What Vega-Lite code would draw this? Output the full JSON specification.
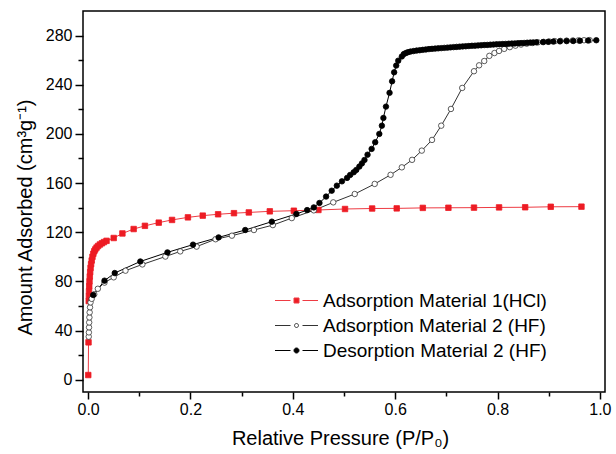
{
  "$schema": "https://vega.github.io/schema/vega-lite/v6.json",
  "width": 522,
  "height": 381,
  "autosize": {"type": "none"},
  "padding": {"left": 83, "top": 11, "right": 11, "bottom": 62},
  "background": "white",
  "config": {"view": {"stroke": "black", "strokeWidth": 1.5}, "font": "Liberation Sans"},
  "data": {"values": [
    {"s": "Adsorption Material 1(HCl)", "p": 0.0003, "v": 3.8},
    {"s": "Adsorption Material 1(HCl)", "p": 0.0008, "v": 30.4},
    {"s": "Adsorption Material 1(HCl)", "p": 0.0012, "v": 64},
    {"s": "Adsorption Material 1(HCl)", "p": 0.0015, "v": 68},
    {"s": "Adsorption Material 1(HCl)", "p": 0.0018, "v": 72},
    {"s": "Adsorption Material 1(HCl)", "p": 0.0022, "v": 76},
    {"s": "Adsorption Material 1(HCl)", "p": 0.0027, "v": 80},
    {"s": "Adsorption Material 1(HCl)", "p": 0.0033, "v": 84},
    {"s": "Adsorption Material 1(HCl)", "p": 0.004, "v": 87.5},
    {"s": "Adsorption Material 1(HCl)", "p": 0.0048, "v": 91},
    {"s": "Adsorption Material 1(HCl)", "p": 0.0058, "v": 94},
    {"s": "Adsorption Material 1(HCl)", "p": 0.007, "v": 97},
    {"s": "Adsorption Material 1(HCl)", "p": 0.0085, "v": 100},
    {"s": "Adsorption Material 1(HCl)", "p": 0.0102, "v": 102.5},
    {"s": "Adsorption Material 1(HCl)", "p": 0.012, "v": 104.5},
    {"s": "Adsorption Material 1(HCl)", "p": 0.014, "v": 106},
    {"s": "Adsorption Material 1(HCl)", "p": 0.0165, "v": 107.5},
    {"s": "Adsorption Material 1(HCl)", "p": 0.0195, "v": 108.8},
    {"s": "Adsorption Material 1(HCl)", "p": 0.023, "v": 110},
    {"s": "Adsorption Material 1(HCl)", "p": 0.027, "v": 111},
    {"s": "Adsorption Material 1(HCl)", "p": 0.031, "v": 112},
    {"s": "Adsorption Material 1(HCl)", "p": 0.036, "v": 113},
    {"s": "Adsorption Material 1(HCl)", "p": 0.05, "v": 115.3},
    {"s": "Adsorption Material 1(HCl)", "p": 0.067, "v": 119},
    {"s": "Adsorption Material 1(HCl)", "p": 0.089, "v": 122.6},
    {"s": "Adsorption Material 1(HCl)", "p": 0.111, "v": 125.2},
    {"s": "Adsorption Material 1(HCl)", "p": 0.138, "v": 127.8},
    {"s": "Adsorption Material 1(HCl)", "p": 0.164, "v": 130},
    {"s": "Adsorption Material 1(HCl)", "p": 0.195, "v": 132.1},
    {"s": "Adsorption Material 1(HCl)", "p": 0.224, "v": 133.5},
    {"s": "Adsorption Material 1(HCl)", "p": 0.254, "v": 134.6},
    {"s": "Adsorption Material 1(HCl)", "p": 0.285, "v": 135.5},
    {"s": "Adsorption Material 1(HCl)", "p": 0.314, "v": 136.1},
    {"s": "Adsorption Material 1(HCl)", "p": 0.355, "v": 137},
    {"s": "Adsorption Material 1(HCl)", "p": 0.402, "v": 137.5},
    {"s": "Adsorption Material 1(HCl)", "p": 0.45, "v": 138.1},
    {"s": "Adsorption Material 1(HCl)", "p": 0.502, "v": 138.9},
    {"s": "Adsorption Material 1(HCl)", "p": 0.555, "v": 139.3},
    {"s": "Adsorption Material 1(HCl)", "p": 0.603, "v": 139.4},
    {"s": "Adsorption Material 1(HCl)", "p": 0.654, "v": 139.8},
    {"s": "Adsorption Material 1(HCl)", "p": 0.704, "v": 139.9},
    {"s": "Adsorption Material 1(HCl)", "p": 0.754, "v": 140},
    {"s": "Adsorption Material 1(HCl)", "p": 0.803, "v": 140.2},
    {"s": "Adsorption Material 1(HCl)", "p": 0.854, "v": 140.3},
    {"s": "Adsorption Material 1(HCl)", "p": 0.904, "v": 140.7},
    {"s": "Adsorption Material 1(HCl)", "p": 0.964, "v": 140.8},

    {"s": "Adsorption Material 2 (HF)", "p": 0.0012, "v": 35},
    {"s": "Adsorption Material 2 (HF)", "p": 0.0015, "v": 38.5},
    {"s": "Adsorption Material 2 (HF)", "p": 0.0018, "v": 42.6},
    {"s": "Adsorption Material 2 (HF)", "p": 0.0021, "v": 46.6},
    {"s": "Adsorption Material 2 (HF)", "p": 0.0025, "v": 50.7},
    {"s": "Adsorption Material 2 (HF)", "p": 0.003, "v": 54.8},
    {"s": "Adsorption Material 2 (HF)", "p": 0.0037, "v": 58.9},
    {"s": "Adsorption Material 2 (HF)", "p": 0.0047, "v": 62.9},
    {"s": "Adsorption Material 2 (HF)", "p": 0.007, "v": 65.8},
    {"s": "Adsorption Material 2 (HF)", "p": 0.012, "v": 69.5},
    {"s": "Adsorption Material 2 (HF)", "p": 0.019, "v": 74},
    {"s": "Adsorption Material 2 (HF)", "p": 0.032, "v": 79},
    {"s": "Adsorption Material 2 (HF)", "p": 0.05, "v": 83.3},
    {"s": "Adsorption Material 2 (HF)", "p": 0.073, "v": 88.7},
    {"s": "Adsorption Material 2 (HF)", "p": 0.106, "v": 93.8},
    {"s": "Adsorption Material 2 (HF)", "p": 0.151, "v": 100.2},
    {"s": "Adsorption Material 2 (HF)", "p": 0.18, "v": 104.4},
    {"s": "Adsorption Material 2 (HF)", "p": 0.212, "v": 108.3},
    {"s": "Adsorption Material 2 (HF)", "p": 0.249, "v": 114.3},
    {"s": "Adsorption Material 2 (HF)", "p": 0.281, "v": 117.2},
    {"s": "Adsorption Material 2 (HF)", "p": 0.324, "v": 121.8},
    {"s": "Adsorption Material 2 (HF)", "p": 0.361, "v": 125.8},
    {"s": "Adsorption Material 2 (HF)", "p": 0.398, "v": 131.5},
    {"s": "Adsorption Material 2 (HF)", "p": 0.441, "v": 137.8},
    {"s": "Adsorption Material 2 (HF)", "p": 0.479, "v": 144.3},
    {"s": "Adsorption Material 2 (HF)", "p": 0.521, "v": 151.1},
    {"s": "Adsorption Material 2 (HF)", "p": 0.56, "v": 159.3},
    {"s": "Adsorption Material 2 (HF)", "p": 0.591, "v": 166.7},
    {"s": "Adsorption Material 2 (HF)", "p": 0.613, "v": 172.8},
    {"s": "Adsorption Material 2 (HF)", "p": 0.633, "v": 178.9},
    {"s": "Adsorption Material 2 (HF)", "p": 0.652, "v": 186.4},
    {"s": "Adsorption Material 2 (HF)", "p": 0.672, "v": 195.1},
    {"s": "Adsorption Material 2 (HF)", "p": 0.69, "v": 206.7},
    {"s": "Adsorption Material 2 (HF)", "p": 0.709, "v": 220.3},
    {"s": "Adsorption Material 2 (HF)", "p": 0.731, "v": 237.4},
    {"s": "Adsorption Material 2 (HF)", "p": 0.754, "v": 251},
    {"s": "Adsorption Material 2 (HF)", "p": 0.764, "v": 255.8},
    {"s": "Adsorption Material 2 (HF)", "p": 0.774, "v": 259.3},
    {"s": "Adsorption Material 2 (HF)", "p": 0.784, "v": 263.5},
    {"s": "Adsorption Material 2 (HF)", "p": 0.794, "v": 265.8},
    {"s": "Adsorption Material 2 (HF)", "p": 0.803, "v": 267.5},
    {"s": "Adsorption Material 2 (HF)", "p": 0.813, "v": 269.2},
    {"s": "Adsorption Material 2 (HF)", "p": 0.824, "v": 270.6},
    {"s": "Adsorption Material 2 (HF)", "p": 0.835, "v": 271.8},
    {"s": "Adsorption Material 2 (HF)", "p": 0.846, "v": 272.7},
    {"s": "Adsorption Material 2 (HF)", "p": 0.857, "v": 273.4},
    {"s": "Adsorption Material 2 (HF)", "p": 0.868, "v": 274},
    {"s": "Adsorption Material 2 (HF)", "p": 0.879, "v": 274.5},
    {"s": "Adsorption Material 2 (HF)", "p": 0.89, "v": 274.9},
    {"s": "Adsorption Material 2 (HF)", "p": 0.901, "v": 275.2},
    {"s": "Adsorption Material 2 (HF)", "p": 0.912, "v": 275.5},
    {"s": "Adsorption Material 2 (HF)", "p": 0.923, "v": 275.7},
    {"s": "Adsorption Material 2 (HF)", "p": 0.935, "v": 275.9},
    {"s": "Adsorption Material 2 (HF)", "p": 0.947, "v": 276},
    {"s": "Adsorption Material 2 (HF)", "p": 0.958, "v": 276.1},
    {"s": "Adsorption Material 2 (HF)", "p": 0.969, "v": 276.2},
    {"s": "Adsorption Material 2 (HF)", "p": 0.98, "v": 276.3},

    {"s": "Desorption Material 2 (HF)", "p": 0.993, "v": 276.2},
    {"s": "Desorption Material 2 (HF)", "p": 0.977, "v": 276},
    {"s": "Desorption Material 2 (HF)", "p": 0.961, "v": 275.8},
    {"s": "Desorption Material 2 (HF)", "p": 0.948, "v": 275.6},
    {"s": "Desorption Material 2 (HF)", "p": 0.935, "v": 275.5},
    {"s": "Desorption Material 2 (HF)", "p": 0.922, "v": 275.3},
    {"s": "Desorption Material 2 (HF)", "p": 0.909, "v": 275.1},
    {"s": "Desorption Material 2 (HF)", "p": 0.899, "v": 274.9},
    {"s": "Desorption Material 2 (HF)", "p": 0.889, "v": 274.7},
    {"s": "Desorption Material 2 (HF)", "p": 0.876, "v": 274.5},
    {"s": "Desorption Material 2 (HF)", "p": 0.870, "v": 274.4},
    {"s": "Desorption Material 2 (HF)", "p": 0.864, "v": 274.3},
    {"s": "Desorption Material 2 (HF)", "p": 0.858, "v": 274.2},
    {"s": "Desorption Material 2 (HF)", "p": 0.852, "v": 274.0},
    {"s": "Desorption Material 2 (HF)", "p": 0.846, "v": 273.9},
    {"s": "Desorption Material 2 (HF)", "p": 0.840, "v": 273.8},
    {"s": "Desorption Material 2 (HF)", "p": 0.834, "v": 273.6},
    {"s": "Desorption Material 2 (HF)", "p": 0.828, "v": 273.5},
    {"s": "Desorption Material 2 (HF)", "p": 0.822, "v": 273.4},
    {"s": "Desorption Material 2 (HF)", "p": 0.816, "v": 273.2},
    {"s": "Desorption Material 2 (HF)", "p": 0.810, "v": 273.1},
    {"s": "Desorption Material 2 (HF)", "p": 0.804, "v": 273.0},
    {"s": "Desorption Material 2 (HF)", "p": 0.798, "v": 272.9},
    {"s": "Desorption Material 2 (HF)", "p": 0.792, "v": 272.7},
    {"s": "Desorption Material 2 (HF)", "p": 0.786, "v": 272.6},
    {"s": "Desorption Material 2 (HF)", "p": 0.780, "v": 272.4},
    {"s": "Desorption Material 2 (HF)", "p": 0.774, "v": 272.3},
    {"s": "Desorption Material 2 (HF)", "p": 0.768, "v": 272.1},
    {"s": "Desorption Material 2 (HF)", "p": 0.762, "v": 272.0},
    {"s": "Desorption Material 2 (HF)", "p": 0.756, "v": 271.8},
    {"s": "Desorption Material 2 (HF)", "p": 0.750, "v": 271.7},
    {"s": "Desorption Material 2 (HF)", "p": 0.744, "v": 271.5},
    {"s": "Desorption Material 2 (HF)", "p": 0.738, "v": 271.3},
    {"s": "Desorption Material 2 (HF)", "p": 0.732, "v": 271.2},
    {"s": "Desorption Material 2 (HF)", "p": 0.726, "v": 271.0},
    {"s": "Desorption Material 2 (HF)", "p": 0.720, "v": 270.8},
    {"s": "Desorption Material 2 (HF)", "p": 0.714, "v": 270.6},
    {"s": "Desorption Material 2 (HF)", "p": 0.708, "v": 270.4},
    {"s": "Desorption Material 2 (HF)", "p": 0.702, "v": 270.2},
    {"s": "Desorption Material 2 (HF)", "p": 0.696, "v": 270.0},
    {"s": "Desorption Material 2 (HF)", "p": 0.690, "v": 269.8},
    {"s": "Desorption Material 2 (HF)", "p": 0.684, "v": 269.6},
    {"s": "Desorption Material 2 (HF)", "p": 0.678, "v": 269.4},
    {"s": "Desorption Material 2 (HF)", "p": 0.672, "v": 269.2},
    {"s": "Desorption Material 2 (HF)", "p": 0.666, "v": 269.0},
    {"s": "Desorption Material 2 (HF)", "p": 0.660, "v": 268.7},
    {"s": "Desorption Material 2 (HF)", "p": 0.654, "v": 268.4},
    {"s": "Desorption Material 2 (HF)", "p": 0.648, "v": 268.1},
    {"s": "Desorption Material 2 (HF)", "p": 0.642, "v": 267.8},
    {"s": "Desorption Material 2 (HF)", "p": 0.636, "v": 267.4},
    {"s": "Desorption Material 2 (HF)", "p": 0.630, "v": 267.0},
    {"s": "Desorption Material 2 (HF)", "p": 0.625, "v": 266.5},
    {"s": "Desorption Material 2 (HF)", "p": 0.621, "v": 265.8},
    {"s": "Desorption Material 2 (HF)", "p": 0.617, "v": 265.0},
    {"s": "Desorption Material 2 (HF)", "p": 0.613, "v": 263.0},
    {"s": "Desorption Material 2 (HF)", "p": 0.606, "v": 259.6},
    {"s": "Desorption Material 2 (HF)", "p": 0.602, "v": 255.6},
    {"s": "Desorption Material 2 (HF)", "p": 0.598, "v": 250.1},
    {"s": "Desorption Material 2 (HF)", "p": 0.594, "v": 242.8},
    {"s": "Desorption Material 2 (HF)", "p": 0.589, "v": 233.4},
    {"s": "Desorption Material 2 (HF)", "p": 0.582, "v": 222.2},
    {"s": "Desorption Material 2 (HF)", "p": 0.577, "v": 213},
    {"s": "Desorption Material 2 (HF)", "p": 0.574, "v": 206.7},
    {"s": "Desorption Material 2 (HF)", "p": 0.569, "v": 200},
    {"s": "Desorption Material 2 (HF)", "p": 0.561, "v": 193.2},
    {"s": "Desorption Material 2 (HF)", "p": 0.554, "v": 187.8},
    {"s": "Desorption Material 2 (HF)", "p": 0.546, "v": 183.1},
    {"s": "Desorption Material 2 (HF)", "p": 0.54, "v": 178.8},
    {"s": "Desorption Material 2 (HF)", "p": 0.535, "v": 176},
    {"s": "Desorption Material 2 (HF)", "p": 0.53, "v": 173.4},
    {"s": "Desorption Material 2 (HF)", "p": 0.524, "v": 170.7},
    {"s": "Desorption Material 2 (HF)", "p": 0.519, "v": 168.8},
    {"s": "Desorption Material 2 (HF)", "p": 0.512, "v": 166.6},
    {"s": "Desorption Material 2 (HF)", "p": 0.506, "v": 164.2},
    {"s": "Desorption Material 2 (HF)", "p": 0.496, "v": 161.4},
    {"s": "Desorption Material 2 (HF)", "p": 0.486, "v": 157.9},
    {"s": "Desorption Material 2 (HF)", "p": 0.476, "v": 153.8},
    {"s": "Desorption Material 2 (HF)", "p": 0.465, "v": 149},
    {"s": "Desorption Material 2 (HF)", "p": 0.452, "v": 143.8},
    {"s": "Desorption Material 2 (HF)", "p": 0.441, "v": 140.2},
    {"s": "Desorption Material 2 (HF)", "p": 0.428, "v": 138},
    {"s": "Desorption Material 2 (HF)", "p": 0.407, "v": 134.9},
    {"s": "Desorption Material 2 (HF)", "p": 0.359, "v": 128.6},
    {"s": "Desorption Material 2 (HF)", "p": 0.307, "v": 121.8},
    {"s": "Desorption Material 2 (HF)", "p": 0.255, "v": 115.8},
    {"s": "Desorption Material 2 (HF)", "p": 0.205, "v": 109.9},
    {"s": "Desorption Material 2 (HF)", "p": 0.155, "v": 103.6},
    {"s": "Desorption Material 2 (HF)", "p": 0.102, "v": 96.2},
    {"s": "Desorption Material 2 (HF)", "p": 0.052, "v": 86.8},
    {"s": "Desorption Material 2 (HF)", "p": 0.032, "v": 80.6},
    {"s": "Desorption Material 2 (HF)", "p": 0.010, "v": 68.9}
  ]},
  "encoding": {
    "x": {
      "field": "p", "type": "quantitative",
      "scale": {"domain": [-0.01, 1.01], "nice": false, "zero": false},
      "axis": {
        "values": [0, 0.1, 0.2, 0.3, 0.4, 0.5, 0.6, 0.7, 0.8, 0.9, 1.0],
        "labelExpr": "round(datum.value*10) % 2 === 0 ? format(datum.value, '.1f') : ''",
        "tickSize": {"condition": {"test": "round(datum.value*10) % 2 === 0", "value": 7}, "value": 4},
        "tickColor": "black", "tickWidth": 1.5,
        "domain": false, "grid": false,
        "labelFontSize": 16, "labelColor": "black", "labelPadding": 2,
        "labelFlush": false, "labelOverlap": false,
        "title": "Relative Pressure (P/P₀)",
        "titleFontSize": 20, "titleFontWeight": "normal", "titleColor": "black",
        "titleX": 257, "titleY": 52, "titleBaseline": "alphabetic", "titleAlign": "center"
      }
    },
    "y": {
      "field": "v", "type": "quantitative",
      "scale": {"domain": [-10, 300], "nice": false, "zero": false},
      "axis": {
        "values": [0, 20, 40, 60, 80, 100, 120, 140, 160, 180, 200, 220, 240, 260, 280],
        "labelExpr": "datum.value % 40 === 0 ? datum.label : ''",
        "tickSize": {"condition": {"test": "datum.value % 40 === 0", "value": 8}, "value": 5},
        "tickColor": "black", "tickWidth": 1.5,
        "domain": false, "grid": false,
        "labelFontSize": 16, "labelColor": "black", "labelPadding": 3,
        "labelFlush": false, "labelOverlap": false,
        "title": "Amount Adsorbed (cm³g⁻¹)",
        "titleFontSize": 20, "titleFontWeight": "normal", "titleColor": "black",
        "titleX": -58, "titleY": 206, "titleAngle": -90, "titleBaseline": "middle", "titleAlign": "center"
      }
    }
  },
  "layer": [
    {
      "mark": {"type": "line", "strokeWidth": 1},
      "encoding": {
        "color": {
          "field": "s", "type": "nominal",
          "scale": {"domain": ["Adsorption Material 1(HCl)", "Adsorption Material 2 (HF)", "Desorption Material 2 (HF)"], "range": ["#ee3b43", "#333333", "#000000"]},
          "legend": {
            "orient": "none", "legendX": 204, "legendY": 280,
            "title": null, "padding": 0,
            "labelFontSize": 19, "labelColor": "black", "labelFont": "Liberation Sans", "labelLimit": 600,
            "symbolSize": 25, "labelOffset": 17, "rowPadding": 5,
            "symbolStrokeWidth": 1, "symbolOpacity": 1,
            "encode": {
              "symbols": {
                "update": {
                  "shape": {"signal": "datum.value === 'Adsorption Material 1(HCl)' ? 'M-8.6,0L-2.4,0M2.4,0L8.6,0M-1,-1L1,-1L1,1L-1,1Z' : datum.value === 'Adsorption Material 2 (HF)' ? 'M-8.6,0L-2.4,0M2.4,0L8.6,0M-0.8,0A0.8,0.8 0 1,0 0.8,0A0.8,0.8 0 1,0 -0.8,0Z' : 'M-8.6,0L-2.4,0M2.4,0L8.6,0M-1,0A1,1 0 1,0 1,0A1,1 0 1,0 -1,0Z'"},
                  "fill": {"signal": "datum.value === 'Adsorption Material 1(HCl)' ? '#ed1c24' : datum.value === 'Adsorption Material 2 (HF)' ? '#ffffff' : '#000000'"},
                  "stroke": {"signal": "datum.value === 'Adsorption Material 1(HCl)' ? '#ee3b43' : '#000000'"},
                  "strokeWidth": {"value": 1}
                }
              }
            }
          }
        }
      }
    },
    {
      "mark": {"type": "point", "filled": true, "size": 30, "opacity": 1, "strokeWidth": 0.8},
      "encoding": {
        "fill": {
          "field": "s", "type": "nominal",
          "scale": {"domain": ["Desorption Material 2 (HF)", "Adsorption Material 2 (HF)", "Adsorption Material 1(HCl)"], "range": ["#000000", "#ffffff", "#ed1c24"]},
          "legend": null
        },
        "stroke": {
          "field": "s", "type": "nominal",
          "scale": {"domain": ["Adsorption Material 2 (HF)", "Desorption Material 2 (HF)", "Adsorption Material 1(HCl)"], "range": ["#333333", "#000000", "#ed1c24"]},
          "legend": null
        },
        "shape": {
          "field": "s", "type": "nominal",
          "scale": {"domain": ["Desorption Material 2 (HF)", "Adsorption Material 1(HCl)", "Adsorption Material 2 (HF)"], "range": ["circle", "square", "circle"]},
          "legend": null
        }
      }
    }
  ]
}
